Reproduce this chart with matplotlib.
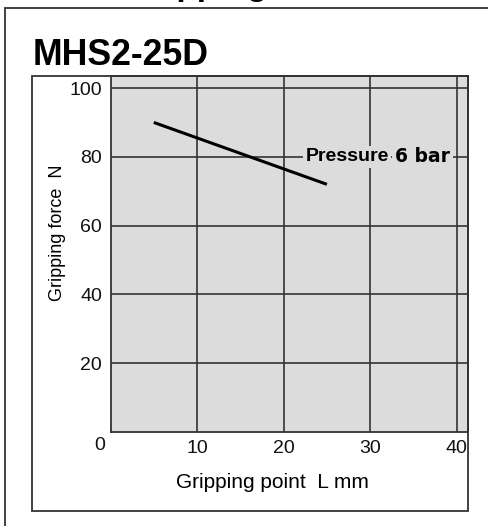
import matplotlib.pyplot as plt
from matplotlib.patches import Rectangle

plt.rcParams['font.family'] = ['Liberation Sans', 'DejaVu Sans']

# data
point_mm = [5, 25]
force_n = [90, 72]
x_ticks = [10, 20, 30, 40]
y_ticks = [20, 40, 60, 80, 100]

W, H = 488, 526
fig = plt.figure(figsize=(W / 100, H / 100), dpi=100)

def fx(px):
    return px / W

def fy(py):
    return 1 - py / H

# outer frame (runs off the image) and inner frame
fig.patches.append(Rectangle((fx(5), fy(540)), fx(500), fy(8) - fy(540),
                             transform=fig.transFigure, fill=False,
                             ec='#333333', lw=1.3))
fig.patches.append(Rectangle((fx(32), fy(511)), fx(468 - 32), fy(76) - fy(511),
                             transform=fig.transFigure, fill=False,
                             ec='#333333', lw=1.3))

# heading above, mostly cut off by the top edge
fig.text(fx(128), fy(-5), 'Gripping Force', fontsize=24, fontweight='bold',
         va='baseline', ha='left')

fig.text(fx(33), fy(65), 'MHS2-25D', fontsize=25.7, fontweight='bold',
         va='baseline', ha='left')

ax = fig.add_axes([fx(110.5), fy(432), fx(468 - 110.5), fy(76) - fy(432)])
ax.set_facecolor('#dcdcdc')
ax.set_xlim(0, 41.3)
ax.set_ylim(0, 103.5)
ax.set_xticks(x_ticks)
ax.set_yticks(y_ticks)
ax.tick_params(length=0, labelsize=14, pad=6, colors='#111111')
ax.grid(True, color='#333333', lw=1.2)
ax.set_axisbelow(True)
for s in ax.spines.values():
    s.set_color('#333333')
    s.set_linewidth(1.3)

ax.plot(point_mm, force_n, color='black', lw=2.2, solid_capstyle='butt')

ax.text(22.5, 80, 'Pressure', fontsize=14, fontweight='bold', va='center',
        ha='left', bbox=dict(fc='#dcdcdc', ec='none', pad=2))
ax.text(32.9, 80, '6 bar', fontsize=13.5, fontweight='bold', va='center',
        ha='left', family='DejaVu Sans',
        bbox=dict(fc='#dcdcdc', ec='none', pad=2))

fig.text(fx(100), fy(445), '0', fontsize=14, ha='center', va='center',
         color='#111111')
fig.text(fx(272), fy(483), 'Gripping point  L mm', fontsize=15,
         ha='center', va='center')
fig.text(fx(58), fy(233), 'Gripping force  N', fontsize=13,
         ha='center', va='center', rotation=90)

fig.savefig('out.png', dpi=100)
